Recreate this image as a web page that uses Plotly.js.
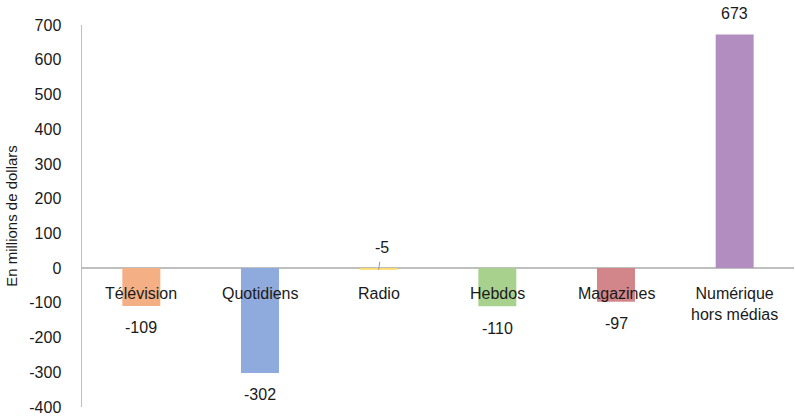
<!DOCTYPE html>
<html>
<head>
<meta charset="utf-8">
<script src="https://cdn.plot.ly/plotly-3.0.1.min.js"></script>
<style>
  html, body { margin: 0; padding: 0; background: #fff; }
  #chart { width: 795px; height: 419px; }
</style>
</head>
<body>
<div id="chart"></div>
<script>
// données du graphique
const categories = ["Télévision", "Quotidiens", "Radio", "Hebdos", "Magazines", "Numérique hors médias"];
const categoryLabels = ["Télévision", "Quotidiens", "Radio", "Hebdos", "Magazines", "Numérique<br>hors médias"];
const values = [-109, -302, -5, -110, -97, 673];
const barColors = ["#F4AF84", "#8FAADC", "#FFD966", "#A9D18E", "#D3868A", "#B28DBF"];
const yTicks = [-400, -300, -200, -100, 0, 100, 200, 300, 400, 500, 600, 700];

const font = "Liberation Sans, Arial, sans-serif";

const trace = {
  x: categories,
  y: values,
  type: 'bar',
  width: 0.32,
  marker: { color: barColors },
  hoverinfo: 'none'
};

const annotations = [];

// noms des catégories, posés près de la ligne zéro
categories.forEach((c, i) => {
  annotations.push({
    x: c, y: 0, xref: 'x', yref: 'y',
    text: categoryLabels[i],
    showarrow: false,
    yanchor: 'top',
    yshift: -15,
    font: { family: font, size: 16, color: '#1a1a1a' }
  });
});

// étiquettes de valeurs
categories.forEach((c, i) => {
  const v = values[i];
  if (c === "Radio") {
    annotations.push({
      x: c, y: v, xref: 'x', yref: 'y',
      text: String(v),
      showarrow: true,
      arrowhead: 0,
      arrowwidth: 1,
      arrowcolor: '#999999',
      ax: 3, ay: -22,
      startstandoff: 4,
      standoff: 0,
      font: { family: font, size: 16, color: '#1a1a1a' }
    });
    return;
  }
  annotations.push({
    x: c, y: v, xref: 'x', yref: 'y',
    text: String(v),
    showarrow: false,
    yanchor: 'middle',
    yshift: v < 0 ? -22 : 21,
    font: { family: font, size: 16, color: '#1a1a1a' }
  });
});

const layout = {
  width: 795,
  height: 419,
  margin: { l: 82, r: 1, t: 25, b: 12 },
  paper_bgcolor: '#ffffff',
  plot_bgcolor: '#ffffff',
  showlegend: false,
  font: { family: font, size: 16, color: '#1a1a1a' },
  xaxis: {
    type: 'category',
    showticklabels: false,
    showgrid: false,
    showline: false,
    zeroline: false,
    ticks: ''
  },
  yaxis: {
    range: [-400, 700],
    tickvals: yTicks,
    ticktext: yTicks.map(String),
    showgrid: false,
    showline: true,
    linecolor: '#BFBFBF',
    linewidth: 1.5,
    zeroline: true,
    zerolinecolor: '#BFBFBF',
    zerolinewidth: 1.5,
    ticks: '',
    ticklabelstandoff: 16,
    tickfont: { family: font, size: 16, color: '#1a1a1a' },
    title: {
      text: 'En millions de dollars',
      font: { family: font, size: 15, color: '#1a1a1a' },
      standoff: 8
    }
  },
  annotations: annotations
};

Plotly.newPlot('chart', [trace], layout, { displayModeBar: false, staticPlot: true });
</script>
</body>
</html>
